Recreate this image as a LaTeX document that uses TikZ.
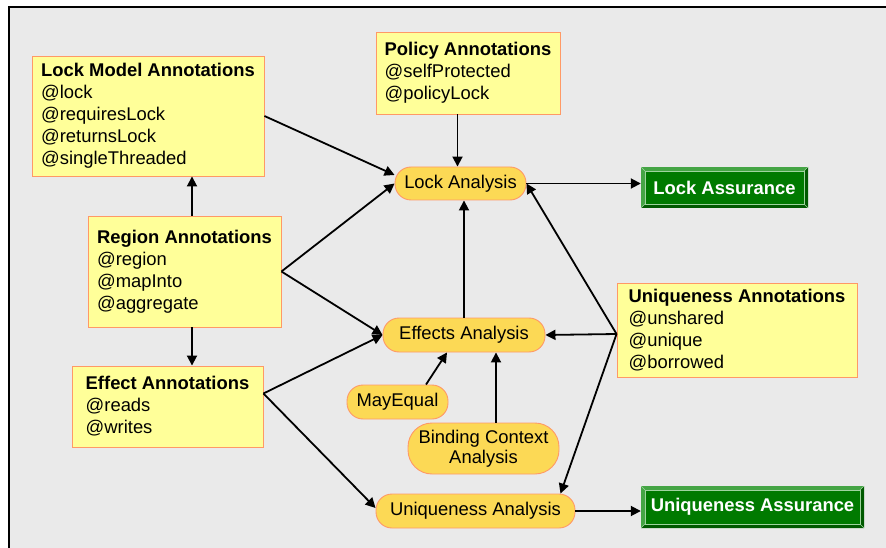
\documentclass[tikz,border=0pt]{standalone}
\usepackage{fontspec}
\setmainfont{Liberation Sans}
\usetikzlibrary{arrows.meta}
\definecolor{bgGray}{HTML}{EAEAEA}
\definecolor{annFill}{HTML}{FFFF99}
\definecolor{peach}{HTML}{FF9966}
\definecolor{pillFill}{HTML}{FCD955}
\definecolor{gOuter}{HTML}{45A545}
\definecolor{gDark}{HTML}{005A00}
\definecolor{gMid}{HTML}{007A00}
\definecolor{gLine}{HTML}{9FD49F}
\tikzset{
  annbox/.style={rectangle, draw=peach, fill=annFill, line width=0.9pt,
    inner sep=0pt, align=left,
    font=\fontsize{18.4}{22}\selectfont},
  pill/.style={rectangle, rounded corners=16pt, draw=peach, fill=pillFill,
    line width=0.9pt, inner sep=0pt, align=center,
    font=\fontsize{18.4}{20}\selectfont},
  greenbox/.style={rectangle, fill=gOuter, inner sep=0pt, text=white,
    font=\fontsize{18.4}{22}\selectfont\bfseries,
    path picture={
      \fill[gDark] (path picture bounding box.south west) -- (path picture bounding box.south east)
        -- (path picture bounding box.north east) -- ([shift={(-4pt,-4pt)}]path picture bounding box.north east)
        -- ([shift={(-4pt,4pt)}]path picture bounding box.south east) -- ([shift={(4pt,4pt)}]path picture bounding box.south west) -- cycle;
      \draw[gLine, line width=0.6pt] (path picture bounding box.south west) -- ([shift={(4pt,4pt)}]path picture bounding box.south west);
      \draw[gLine, line width=0.6pt] (path picture bounding box.north east) -- ([shift={(-4pt,-4pt)}]path picture bounding box.north east);
      \draw[gLine, line width=0.6pt] (path picture bounding box.north west) -- ([shift={(4pt,-4pt)}]path picture bounding box.north west);
      \draw[gLine, line width=0.6pt] (path picture bounding box.south east) -- ([shift={(-4pt,4pt)}]path picture bounding box.south east);
      \fill[gMid, draw=gLine, line width=0.7pt] ([shift={(4pt,4pt)}]path picture bounding box.south west) rectangle ([shift={(-4pt,-4pt)}]path picture bounding box.north east);
    }},
  arr/.style={line width=1.8pt, -{Triangle[length=10pt,width=10pt]}}
}
\begin{document}
\begin{tikzpicture}[x=1pt,y=-1pt]
\useasboundingbox (0,0) rectangle (886,548);
\fill[white] (0,0) rectangle (886,548);
\fill[bgGray] (9,8) rectangle (886,548);
\draw[black, line width=2pt] (8.5,548) -- (8.5,7.5) -- (886,7.5);

% annotation boxes
\node[annbox, minimum width=232pt, minimum height=120pt] (lockmodel) at (148,116)
  {\textbf{Lock Model Annotations}\\@lock\\@requiresLock\\@returnsLock\\@singleThreaded};
\node[annbox, minimum width=184pt, minimum height=82pt] (policy) at (468,73)
  {\textbf{Policy Annotations}\\@selfProtected\\@policyLock};
\node[annbox, minimum width=193pt, minimum height=111pt] (region) at (184.5,271.5)
  {\textbf{Region Annotations}\\@region\\@mapInto\\@aggregate};
\node[annbox, minimum width=191pt, minimum height=81pt] (effect) at (167.5,406.5)
  {\textbf{Effect Annotations}\\@reads\\@writes};
\node[annbox, minimum width=240pt, minimum height=94pt] (uniqann) at (737,330)
  {\textbf{Uniqueness Annotations}\\@unshared\\@unique\\@borrowed};

% analyses
\node[pill, minimum width=131pt, minimum height=33pt] (lock) at (460.5,183.5) {Lock Analysis};
\node[pill, minimum width=162pt, minimum height=34pt] (effects) at (464,335) {Effects Analysis};
\node[pill, minimum width=101pt, minimum height=34pt] (mayeq) at (397.5,402) {MayEqual};
\node[pill, rounded corners=24pt, minimum width=151pt, minimum height=51pt] (binding) at (483.5,448.5) {Binding Context\\Analysis};
\node[pill, minimum width=199pt, minimum height=34pt] (uniq) at (475.5,511) {Uniqueness Analysis};

% assurances
\node[greenbox, minimum width=167pt, minimum height=41pt] (lockA) at (724.5,187.5) {Lock Assurance};
\node[greenbox, minimum width=223pt, minimum height=42pt] (uniqA) at (752.5,507) {Uniqueness Assurance};

% connectors
\draw[arr] (lockmodel.east) -- ([yshift=8.5pt]lock.west);
\draw[arr] (region.east) -- (lock.west);
\draw[arr] (region.east) -- (effects.west);
\draw[arr] ([yshift=13pt]effect.east) -- (effects.west);
\draw[arr] ([yshift=13pt]effect.east) -- ([yshift=3pt]uniq.west);
\draw[arr] ([xshift=7.5pt]region.north) -- ([xshift=7.5pt]region.north |- lockmodel.south);
\draw[arr] ([xshift=7.5pt]region.south) -- ([xshift=7.5pt]region.south |- effect.north);
\draw[arr] ([xshift=-3pt]lock.north |- policy.south) -- ([xshift=-3pt]lock.north);
\draw[arr] (effects.north) -- (effects.north |- lock.south);
\draw[arr] (lock.east) -- (lock.east -| lockA.west);
\draw[arr] ([yshift=-4pt]uniqann.west) -- (lock.east);
\draw[arr] ([yshift=-4pt]uniqann.west) -- (effects.east);
\draw[arr] ([yshift=-4pt]uniqann.west) -- ([xshift=85pt]uniq.north);
\draw[arr] ([xshift=28.5pt]mayeq.north) -- ([xshift=-17pt]effects.south);
\draw[arr] ([xshift=12.5pt]binding.north) -- ([xshift=12.5pt]binding.north |- effects.south);
\draw[arr] (uniq.east) -- (uniq.east -| uniqA.west);
\end{tikzpicture}
\end{document}
